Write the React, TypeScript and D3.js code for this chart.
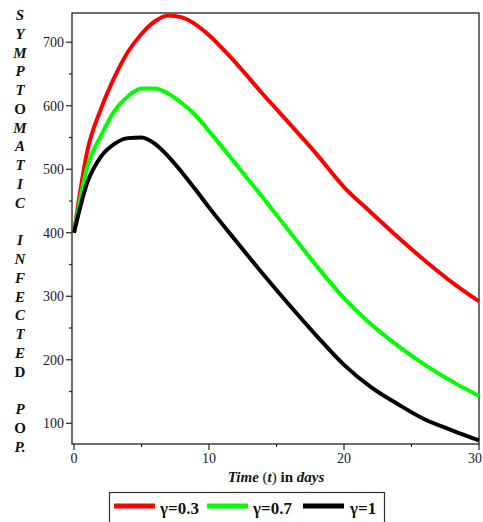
import React from "react";
import * as d3 from "d3";

const times = [0, 1, 2, 3, 4, 5, 6, 7, 8, 9, 10, 12, 14, 16, 18, 20, 22, 24, 26, 28, 30];
const red03 = [400, 530, 595, 645, 685, 713, 733, 742, 739, 728, 711, 667, 618, 571, 523, 472, 432, 393, 356, 322, 292];
const green07 = [400, 505, 553, 592, 615, 627, 627, 619, 604, 585, 560, 508, 455, 401, 347, 297, 256, 222, 192, 166, 143];
const black1 = [400, 480, 520, 540, 549, 550, 540, 520, 495, 468, 440, 387, 335, 285, 237, 192, 157, 130, 106, 89, 73];

const seriesNames = ["γ=0.3", "γ=0.7", "γ=1"];
const seriesColors = ["#ff0000", "#00ff00", "#000000"];
const seriesValues = [red03, green07, black1];

const xTicks = [0, 10, 20, 30];
const xMinor = [5, 15, 25];
const yTicks = [100, 200, 300, 400, 500, 600, 700];
const yMinor = [150, 250, 350, 450, 550, 650];

const titleChars = ["S", "Y", "M", "P", "T", "O", "M", "A", "T", "I", "C", "", "I", "N", "F", "E", "C", "T", "E", "D", "", "P", "O", "P."];
const uprightChars = ["O", "D"];

export default function App() {
  const W = 483, H = 522;
  const left = 72, right = 479, top = 13, bottom = 444;
  const x = d3.scaleLinear().domain([0, 30]).range([74, 479]);
  const y = d3.scaleLinear().domain([67.4, 746]).range([bottom, top]);
  const line = d3.line<number>()
    .x((_, i) => x(times[i]))
    .y((d) => y(d))
    .curve(d3.curveMonotoneX);
  const serif = "'Liberation Serif', 'Times New Roman', serif";
  const legendX = [114, 207, 303];
  const legendLabelX = [160, 253, 350];

  return (
    <svg width={W} height={H} style={{ position: "absolute", left: 0, top: 0, background: "#fff" }} fontFamily={serif}>
      <rect x={0} y={0} width={W} height={H} fill="#fff" />
      {/* frame */}
      <rect x={left} y={top} width={right - left} height={bottom - top} fill="none" stroke="#222" strokeWidth={1.3} />
      {/* y ticks */}
      {yTicks.map((t) => (
        <g key={"y" + t}>
          <line x1={left - 6} x2={left} y1={y(t)} y2={y(t)} stroke="#222" strokeWidth={1.2} />
          <text x={left - 8} y={y(t) + 5} fontSize={14} textAnchor="end" fill="#1a1a2a">{t}</text>
        </g>
      ))}
      {yMinor.map((t) => (
        <line key={"ym" + t} x1={left - 3} x2={left} y1={y(t)} y2={y(t)} stroke="#222" strokeWidth={1.2} />
      ))}
      {/* x ticks */}
      {xTicks.map((t, i) => (
        <g key={"x" + t}>
          <line x1={x(t)} x2={x(t)} y1={bottom} y2={bottom + 6} stroke="#222" strokeWidth={1.2} />
          <text x={i === xTicks.length - 1 ? W - 1 : x(t)} y={bottom + 19} fontSize={14}
            textAnchor={i === xTicks.length - 1 ? "end" : "middle"} fill="#1a1a2a">{t}</text>
        </g>
      ))}
      {xMinor.map((t) => (
        <line key={"xm" + t} x1={x(t)} x2={x(t)} y1={bottom} y2={bottom + 3} stroke="#222" strokeWidth={1.2} />
      ))}
      {/* curves */}
      {seriesValues.map((vals, i) => (
        <path key={"s" + i} d={line(vals) || ""} fill="none" stroke={seriesColors[i]} strokeWidth={4} strokeLinejoin="round" />
      ))}
      {/* y title */}
      {titleChars.map((c, i) =>
        c ? (
          <text key={"t" + i} x={20} y={15 + i * 18.78 + 5} fontSize={15} fontWeight="bold"
            fontStyle={uprightChars.includes(c) ? "normal" : "italic"} textAnchor="middle" fill="#111">{c}</text>
        ) : null
      )}
      {/* x title */}
      <text x={276} y={482} fontSize={15} textAnchor="middle" fill="#111" fontWeight="bold">
        <tspan fontStyle="italic">Time</tspan>
        <tspan fontWeight="normal"> (</tspan>
        <tspan fontStyle="italic">t</tspan>
        <tspan fontWeight="normal">)</tspan>
        <tspan> in </tspan>
        <tspan fontStyle="italic">days</tspan>
      </text>
      {/* legend */}
      <rect x={109.5} y={492.5} width={275} height={40} fill="#fff" stroke="#333" strokeWidth={1.2} />
      {seriesNames.map((n, i) => (
        <g key={"l" + i}>
          <line x1={legendX[i]} x2={legendX[i] + 41} y1={506} y2={506} stroke={seriesColors[i]} strokeWidth={5} />
          <text x={legendLabelX[i]} y={514} fontSize={17} fontWeight="bold" fill="#111">{n}</text>
        </g>
      ))}
    </svg>
  );
}
